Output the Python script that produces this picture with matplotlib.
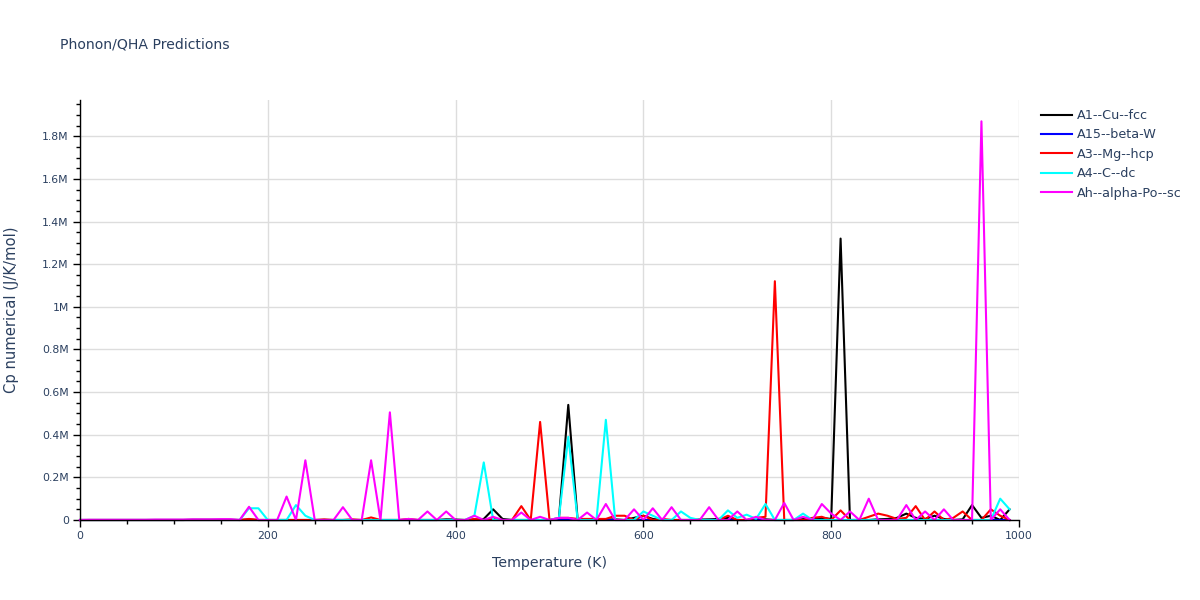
import matplotlib
matplotlib.use("Agg")
import matplotlib.pyplot as plt
from matplotlib.ticker import FuncFormatter, MultipleLocator

plt.rcParams['font.family'] = ['DejaVu Sans']

# temperature grid (K)
temperature = list(range(0, 1000, 10))

# Cp numerical, in millions of J/K/mol, one value per 10 K
cp_a1_cu_fcc = [
    0, 0, 0, 0, 0, 0, 0, 0, 0, 0,
    0, 0, 0.001, 0.001, 0.001, 0.001, 0.001, 0, 0.002, 0,
    0, 0, 0, 0, 0, 0, 0, 0, 0, 0,
    0, 0, 0, 0, 0, 0, 0, 0, 0, 0.003,
    0.002, 0, 0, 0.005, 0.05, 0.005, 0, 0, 0, 0,
    0, 0.005, 0.54, 0, 0, 0, 0.002, 0.003, 0, 0.01,
    0.02, 0.005, 0, 0, 0, 0, 0.002, 0.003, 0.005, 0.01,
    0, 0, 0.005, 0.003, 0, 0, 0, 0.004, 0.008, 0.01,
    0.005, 1.32, 0, 0, 0, 0.003, 0.005, 0.01, 0.03, 0.01,
    0.005, 0.02, 0.005, 0, 0.003, 0.07, 0.01, 0.02, 0, 0.05,
]

cp_a15_beta_w = [
    0, 0, 0, 0, 0, 0, 0, 0, 0, 0,
    0, 0, 0, 0, 0, 0, 0, 0, 0, 0,
    0, 0, 0, 0, 0, 0, 0, 0, 0, 0,
    0, 0, 0, 0, 0, 0, 0, 0, 0, 0,
    0, 0, 0, 0, 0, 0, 0, 0, 0, 0,
    0, 0, 0, 0, 0, 0, 0, 0, 0, 0,
    0, 0, 0, 0, 0, 0, 0, 0, 0, 0,
    0, 0, 0, 0, 0, 0, 0, 0, 0, 0,
    0, 0, 0, 0, 0, 0, 0, 0, 0, 0,
    0, 0, 0, 0, 0, 0, 0, 0, 0, 0,
]

cp_a3_mg_hcp = [
    0, 0, 0, 0, 0, 0, 0, 0, 0, 0,
    0, 0, 0, 0, 0, 0, 0, 0, 0.005, 0,
    0, 0, 0, 0, 0, 0, 0.003, 0, 0, 0.003,
    0, 0.012, 0, 0, 0, 0.005, 0, 0, 0, 0,
    0, 0, 0.005, 0, 0.005, 0, 0, 0.065, 0, 0.46,
    0, 0.01, 0.01, 0.005, 0.005, 0.005, 0.005, 0.02, 0.02, 0,
    0.02, 0, 0.005, 0, 0, 0, 0, 0, 0, 0.02,
    0, 0, 0.01, 0.015, 1.12, 0, 0, 0, 0.01, 0.015,
    0, 0.045, 0, 0, 0.015, 0.03, 0.02, 0.005, 0.01, 0.065,
    0, 0.04, 0, 0.01, 0.04, 0, 0, 0.05, 0.02, 0,
]

cp_a4_c_dc = [
    0, 0, 0, 0, 0, 0, 0, 0, 0, 0,
    0, 0, 0, 0, 0, 0, 0, 0, 0.055, 0.055,
    0, 0, 0, 0.07, 0.02, 0, 0, 0, 0, 0,
    0, 0, 0, 0, 0, 0, 0, 0, 0, 0,
    0, 0, 0.02, 0.27, 0, 0, 0, 0, 0, 0,
    0, 0.01, 0.39, 0, 0, 0, 0.47, 0, 0, 0,
    0.04, 0.02, 0, 0, 0.04, 0.01, 0, 0, 0, 0.045,
    0.01, 0.025, 0.005, 0.075, 0, 0, 0, 0.03, 0, 0,
    0, 0, 0, 0, 0, 0, 0, 0, 0, 0,
    0, 0, 0, 0, 0, 0, 0, 0, 0.1, 0.05,
]

cp_ah_alpha_po_sc = [
    0, 0.001, 0.001, 0.001, 0.001, 0.001, 0.001, 0.001, 0.002, 0.002,
    0.002, 0.002, 0.003, 0.003, 0.003, 0.004, 0.004, 0, 0.062, 0,
    0, 0, 0.11, 0, 0.28, 0, 0, 0, 0.06, 0,
    0, 0.28, 0, 0.505, 0, 0.005, 0, 0.04, 0, 0.04,
    0, 0, 0.02, 0, 0.015, 0, 0, 0.035, 0, 0.015,
    0, 0.01, 0.01, 0, 0.035, 0, 0.075, 0, 0, 0.05,
    0, 0.055, 0, 0.06, 0, 0, 0, 0.06, 0, 0,
    0.04, 0, 0.015, 0, 0, 0.08, 0, 0.015, 0, 0.075,
    0.03, 0, 0.04, 0, 0.1, 0, 0, 0, 0.07, 0,
    0.04, 0, 0.05, 0, 0, 0, 1.87, 0, 0.05, 0,
]

series_names = ["A1--Cu--fcc", "A15--beta-W", "A3--Mg--hcp", "A4--C--dc", "Ah--alpha-Po--sc"]
series_values = [cp_a1_cu_fcc, cp_a15_beta_w, cp_a3_mg_hcp, cp_a4_c_dc, cp_ah_alpha_po_sc]
series_colors = ["black", "blue", "red", "cyan", "magenta"]

text_col = "#2a3f5f"

fig = plt.figure(figsize=(12, 6), dpi=100)
ax = fig.add_axes([80 / 1200, 1 - 520 / 600, 939 / 1200, 420 / 600])

for name, vals, col in zip(series_names, series_values, series_colors):
    ax.plot(temperature, [v * 1e6 for v in vals], color=col, lw=1.5, label=name, clip_on=False)

ax.set_xlim(0, 1000)
ax.set_ylim(0, 1.97e6)

ax.xaxis.set_major_locator(MultipleLocator(200))
ax.xaxis.set_minor_locator(MultipleLocator(50))
ax.yaxis.set_major_locator(MultipleLocator(2e5))
ax.yaxis.set_minor_locator(MultipleLocator(5e4))


def fmt_m(v, pos):
    if abs(v) < 1:
        return "0"
    return "%gM" % round(v / 1e6, 2)


ax.yaxis.set_major_formatter(FuncFormatter(fmt_m))

ax.grid(True, which="major", color="#dddddd", lw=1)
ax.set_axisbelow(True)
for s in ["top", "right"]:
    ax.spines[s].set_visible(False)
for s in ["left", "bottom"]:
    ax.spines[s].set_color("black")
    ax.spines[s].set_linewidth(1)

ax.tick_params(which="major", direction="out", length=5, width=1, color="black",
               labelsize=7.8, labelcolor=text_col, pad=3)
ax.tick_params(which="minor", direction="out", length=3, width=1, color="black")

ax.set_xlabel("Temperature (K)", fontsize=10.2, color=text_col)
ax.set_ylabel("Cp numerical (J/K/mol)", fontsize=10.6, color=text_col)
ax.xaxis.set_label_coords(0.5, (520 - 563) / 420)
ax.yaxis.set_label_coords((12 - 80) / 939, 0.5)
ax.xaxis.label.set_va("center")
ax.yaxis.label.set_va("center")

fig.text(60 / 1200, 1 - 45 / 600, "Phonon/QHA Predictions", fontsize=10.1,
         color=text_col, va="center", ha="left")

leg = fig.legend(loc="upper left", bbox_to_anchor=(1036 / 1200, 1 - 104 / 600),
                 frameon=False, fontsize=9.2, handlelength=2.45, labelspacing=0.5,
                 handletextpad=0.35, borderaxespad=0)
for t in leg.get_texts():
    t.set_color(text_col)

fig.savefig("out.png", dpi=100)
